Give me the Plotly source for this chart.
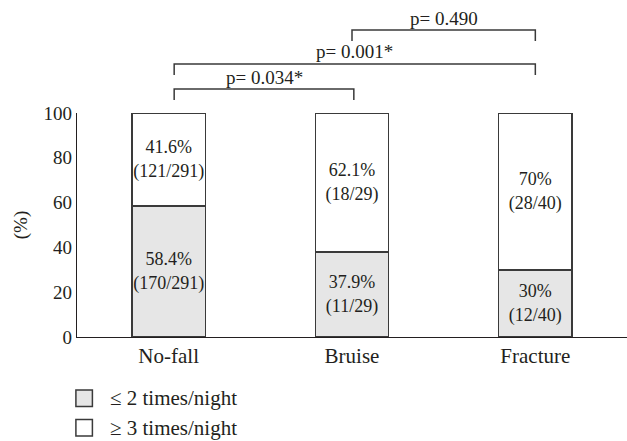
import plotly.graph_objects as go

categories = ["No-fall", "Bruise", "Fracture"]
low_pct = [58.4, 37.9, 30]      # <= 2 times/night
high_pct = [41.6, 62.1, 70]     # >= 3 times/night
low_n = [170, 11, 12]
high_n = [121, 18, 28]
totals = [291, 29, 40]
y_ticks = [0, 20, 40, 60, 80, 100]
series_names = ["\u2264 2 times/night", "\u2265 3 times/night"]
series_colors = ["#e6e6e6", "#ffffff"]

# comparisons: (left x, right x, bracket level in % of the axis, label)
brackets = [
    (0.03, 1.01, 110.7, "p= 0.034*"),
    (0.03, 2.0, 121.9, "p= 0.001*"),
    (1.0, 2.0, 137.0, "p= 0.490"),
]
tick_drop = 4.9
Y_MAX = 100

FONT = "Liberation Serif"
INK = "#231f20"
EDGE = "#3a3a3a"

xs = list(range(len(categories)))

def labels(pcts, ns):
    return [f"{p:g}%<br>({n}/{t})" for p, n, t in zip(pcts, ns, totals)]

fig = go.Figure()
for pcts, ns, name, col in [(low_pct, low_n, series_names[0], series_colors[0]),
                            (high_pct, high_n, series_names[1], series_colors[1])]:
    fig.add_trace(go.Bar(
        x=xs, y=pcts, name=name, width=0.4,
        marker=dict(color=col, line=dict(color=EDGE, width=1.5)),
        text=labels(pcts, ns), textposition="inside", insidetextanchor="middle",
        textangle=0, constraintext="none",
        textfont=dict(family=FONT, size=18, color=INK),
        hoverinfo="skip", showlegend=False,
    ))

# significance brackets (x in data units, y as fraction of the 0-100 axis)
for x0, x1, yb, lab in brackets:
    ytop = yb / Y_MAX
    ybot = (yb - tick_drop) / Y_MAX
    fig.add_shape(
        type="path", xref="x", yref="paper",
        path=f"M {x0},{ybot} L {x0},{ytop} L {x1},{ytop} L {x1},{ybot}",
        line=dict(color=EDGE, width=1.5),
    )
    fig.add_annotation(
        x=(x0 + x1) / 2, y=ytop, xref="x", yref="paper", text=lab, showarrow=False,
        yanchor="middle", yshift=12, font=dict(family=FONT, size=19, color=INK),
    )

# legend drawn below the plot
legend_rows = [(-0.2366, -0.310), (-0.368, -0.442)]
for (y0, y1), name, col in zip(legend_rows, series_names, series_colors):
    fig.add_shape(
        type="rect", xref="paper", yref="paper",
        x0=-0.002, x1=0.028, y0=y1, y1=y0,
        fillcolor=col, line=dict(color=EDGE, width=1.5),
    )
    fig.add_annotation(
        x=0.0564, y=(y0 + y1) / 2, xref="paper", yref="paper", text=name,
        showarrow=False, xanchor="left", yanchor="middle",
        font=dict(family=FONT, size=21, color=INK),
    )

fig.update_layout(
    width=627, height=441,
    margin=dict(l=77, r=0, t=113, b=104),
    barmode="stack",
    plot_bgcolor="white", paper_bgcolor="white",
    font=dict(family=FONT, size=19, color=INK),
    showlegend=False,
)
fig.update_xaxes(
    range=[-0.5, 2.5], tickvals=xs, ticktext=categories,
    tickfont=dict(family=FONT, size=21, color=INK),
    showline=True, linecolor=INK, linewidth=1.3, showgrid=False,
    zeroline=False, ticks="", fixedrange=True, automargin=False,
)
fig.update_yaxes(
    range=[0, Y_MAX], tickvals=y_ticks,
    tickfont=dict(family=FONT, size=19, color=INK),
    showline=True, linecolor=INK, linewidth=1.3, showgrid=False,
    zeroline=False, ticks="", fixedrange=True, automargin=False,
    title=dict(text="(%)", standoff=10, font=dict(family=FONT, size=19, color=INK)),
)

fig.write_html(
    "out.html",
    config={"displayModeBar": False},
    post_script="document.body.style.margin='0';document.body.style.overflow='hidden';",
)
